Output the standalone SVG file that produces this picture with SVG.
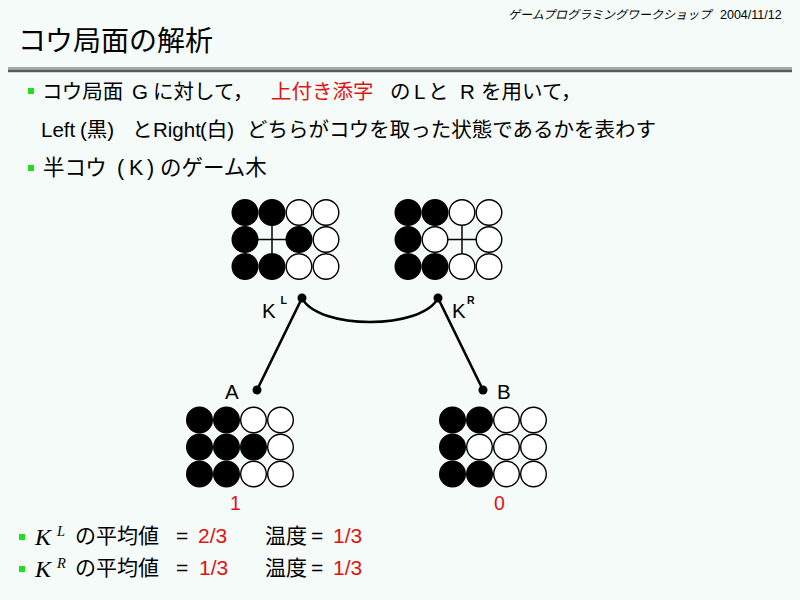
<svg xmlns="http://www.w3.org/2000/svg" xmlns:xlink="http://www.w3.org/1999/xlink" width="800" height="600" viewBox="0 0 800 600">
<style>
.t{font-family:"Liberation Sans","Noto Sans CJK JP",sans-serif;fill:#000}
.red{fill:#e01414}
.bul{fill:#22dd22}
.b{fill:#000;stroke:#000;stroke-width:1.4}
.w{fill:#fff;stroke:#000;stroke-width:1.4}
.grid{stroke:#000;stroke-width:1.5}
.edge{fill:none;stroke:#000;stroke-width:2.6;stroke-linecap:round}
.dot{fill:#000}
.math{font-family:"Liberation Serif",serif;font-style:italic;fill:#000}
</style>
<defs>
<circle id="bs" r="12.8" class="b"/>
<circle id="ws" r="12.8" class="w"/>
</defs>
<rect width="800" height="600" fill="#f5fbf8"/>

<g id="header">
<text class="t" x="508" y="19" font-size="12" font-style="italic" fill="#222">ゲームプログラミングワークショップ</text>
<text class="t" x="720" y="19" font-size="12.5">2004/11/12</text>
<text class="t" x="18" y="51" font-size="28">コウ局面の解析</text>
<rect x="8" y="67" width="784" height="2.6" fill="#a5aba6"/>
<rect x="8" y="69.6" width="784" height="2.6" fill="#555b56"/>
</g>

<g id="bullets">
<rect class="bul" x="28" y="88" width="6" height="6"/>
<text class="t" font-size="20.5" y="99"><tspan x="42">コウ局面</tspan><tspan x="132">G</tspan><tspan x="153">に対して，</tspan><tspan x="271" class="red">上付き添字</tspan><tspan x="390">の</tspan><tspan x="414">L</tspan><tspan x="428">と</tspan><tspan x="460">R</tspan><tspan x="481">を用いて，</tspan></text>
<text class="t" font-size="20.5" y="137"><tspan x="41">Left</tspan><tspan x="80">(黒)</tspan><tspan x="132">と</tspan><tspan x="153">Right</tspan><tspan x="200">(白)</tspan><tspan x="247">どちらがコウを取った状態であるかを表わす</tspan></text>
<rect class="bul" x="28" y="165" width="6" height="6"/>
<text class="t" font-size="21.5" y="175"><tspan x="43">半コウ</tspan><tspan x="117">(</tspan><tspan x="129">K</tspan><tspan x="147">)</tspan><tspan x="160">のゲーム木</tspan></text>
</g>

<g id="connectors">
<path class="edge" d="M302,298 C318,330 422,330 438,298"/>
<line class="edge" x1="302" y1="298" x2="257" y2="390"/>
<line class="edge" x1="438" y1="298" x2="483" y2="390"/>
</g>

<g id="node-KL">
<line class="grid" x1="245" y1="239.5" x2="299" y2="239.5"/>
<line class="grid" x1="272" y1="212.5" x2="272" y2="266.5"/>
<use xlink:href="#bs" x="245" y="212.5"/><use xlink:href="#bs" x="272" y="212.5"/><use xlink:href="#ws" x="299" y="212.5"/><use xlink:href="#ws" x="326" y="212.5"/>
<use xlink:href="#bs" x="245" y="239.5"/><use xlink:href="#bs" x="299" y="239.5"/><use xlink:href="#ws" x="326" y="239.5"/>
<use xlink:href="#bs" x="245" y="266.5"/><use xlink:href="#bs" x="272" y="266.5"/><use xlink:href="#ws" x="299" y="266.5"/><use xlink:href="#ws" x="326" y="266.5"/>
<circle class="dot" cx="302" cy="298" r="4.5"/>
<text class="t" x="262" y="318" font-size="20.5">K</text>
<text class="t" x="280.5" y="304" font-size="10.5" font-weight="bold">L</text>
</g>

<g id="node-KR">
<line class="grid" x1="435" y1="239.5" x2="489" y2="239.5"/>
<line class="grid" x1="462" y1="212.5" x2="462" y2="266.5"/>
<use xlink:href="#bs" x="408" y="212.5"/><use xlink:href="#bs" x="435" y="212.5"/><use xlink:href="#ws" x="462" y="212.5"/><use xlink:href="#ws" x="489" y="212.5"/>
<use xlink:href="#bs" x="408" y="239.5"/><use xlink:href="#ws" x="435" y="239.5"/><use xlink:href="#ws" x="489" y="239.5"/>
<use xlink:href="#bs" x="408" y="266.5"/><use xlink:href="#bs" x="435" y="266.5"/><use xlink:href="#ws" x="462" y="266.5"/><use xlink:href="#ws" x="489" y="266.5"/>
<circle class="dot" cx="438" cy="298" r="4.5"/>
<text class="t" x="452" y="318" font-size="20.5">K</text>
<text class="t" x="467" y="304" font-size="10.5" font-weight="bold">R</text>
</g>

<g id="node-A">
<circle class="dot" cx="257" cy="390" r="4.5"/>
<text class="t" x="225" y="399" font-size="20.5">A</text>
<use xlink:href="#bs" x="199.5" y="420"/><use xlink:href="#bs" x="226.5" y="420"/><use xlink:href="#ws" x="253.5" y="420"/><use xlink:href="#ws" x="280.5" y="420"/>
<use xlink:href="#bs" x="199.5" y="447"/><use xlink:href="#bs" x="226.5" y="447"/><use xlink:href="#bs" x="253.5" y="447"/><use xlink:href="#ws" x="280.5" y="447"/>
<use xlink:href="#bs" x="199.5" y="474"/><use xlink:href="#bs" x="226.5" y="474"/><use xlink:href="#ws" x="253.5" y="474"/><use xlink:href="#ws" x="280.5" y="474"/>
<text class="t red" x="230" y="510" font-size="19.5">1</text>
</g>

<g id="node-B">
<circle class="dot" cx="483" cy="390" r="4.5"/>
<text class="t" x="497" y="399" font-size="20.5">B</text>
<use xlink:href="#bs" x="452.5" y="420"/><use xlink:href="#bs" x="479.5" y="420"/><use xlink:href="#ws" x="506.5" y="420"/><use xlink:href="#ws" x="533.5" y="420"/>
<use xlink:href="#bs" x="452.5" y="447"/><use xlink:href="#ws" x="479.5" y="447"/><use xlink:href="#ws" x="506.5" y="447"/><use xlink:href="#ws" x="533.5" y="447"/>
<use xlink:href="#bs" x="452.5" y="474"/><use xlink:href="#bs" x="479.5" y="474"/><use xlink:href="#ws" x="506.5" y="474"/><use xlink:href="#ws" x="533.5" y="474"/>
<text class="t red" x="494" y="510" font-size="19.5">0</text>
</g>

<g id="summary">
<rect class="bul" x="19" y="534" width="6" height="6"/>
<text class="math" x="35" y="545" font-size="24">K</text>
<text class="math" x="57" y="536" font-size="14.5">L</text>
<text class="t" font-size="21" y="543"><tspan x="75">の平均値</tspan><tspan x="176">=</tspan><tspan x="198" class="red">2/3</tspan><tspan x="265">温度</tspan><tspan x="311">=</tspan><tspan x="333" class="red">1/3</tspan></text>
<rect class="bul" x="19" y="566" width="6" height="6"/>
<text class="math" x="35" y="577" font-size="24">K</text>
<text class="math" x="57" y="568" font-size="14.5">R</text>
<text class="t" font-size="21" y="575"><tspan x="75">の平均値</tspan><tspan x="176">=</tspan><tspan x="199" class="red">1/3</tspan><tspan x="265">温度</tspan><tspan x="311">=</tspan><tspan x="333" class="red">1/3</tspan></text>
</g>
</svg>
